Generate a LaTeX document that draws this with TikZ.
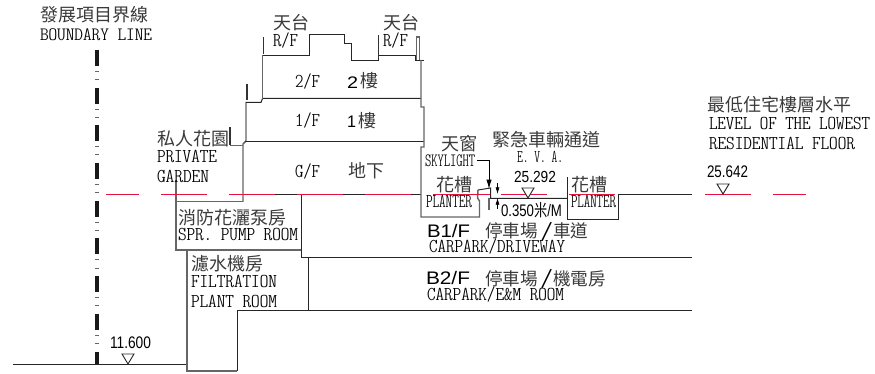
\documentclass[tikz,border=0pt]{standalone}
\usepackage{fontspec}
\usepackage{graphicx}
\usetikzlibrary{arrows.meta}
\newfontfamily\cjkf{Noto Sans CJK TC}
\newfontfamily\arl{Liberation Sans}
\definecolor{redline}{HTML}{E5123F}
\definecolor{wallgrey}{HTML}{666666}
\definecolor{inkgrey}{HTML}{3A3A3A}
\newlength{\pxu}\setlength{\pxu}{0.75pt}
% width, cap height in px; serif condensed mono label
\newcommand{\lat}[3]{\resizebox{#1\pxu}{#2\pxu}{\fontsize{15pt}{15pt}\ttfamily\fontseries{lc}\selectfont\raisebox{0pt}[0.61em][0pt]{#3}}}
\newcommand{\arf}[3]{\resizebox{#1\pxu}{#2\pxu}{\fontsize{15pt}{15pt}\arl\raisebox{0pt}[0.716em][0pt]{#3}}}
\tikzset{
  x=0.75pt,y=-0.75pt,
  zh/.style={anchor=base west,inner sep=0pt,outer sep=0pt,text=inkgrey,font=\fontsize{13.5pt}{13.5pt}\cjkf},
  zhb/.style={zh,font=\fontsize{13.2pt}{13.2pt}\cjkf},
  en/.style={anchor=base west,inner sep=0pt,outer sep=0pt,text=black},
  num/.style={anchor=base west,inner sep=0pt,outer sep=0pt,text=black},
  ln/.style={draw=black!85,line width=0.75pt},
  wall/.style={draw=wallgrey,line width=1.1pt,line join=miter},
  para/.style={draw=black!80,line width=1.3pt},
  rd/.style={draw=redline,line width=0.75pt},
  lvl/.style={draw=black!85,line width=0.7pt,fill=white},
  dimarrow/.style={draw=black,line width=0.5pt,-{Latex[length=5pt,width=3pt]}},
}
\begin{document}
\begin{tikzpicture}
\path[use as bounding box] (0,0) rectangle (875,374);
% boundary line
\foreach \k in {0,...,7}{
  \fill[black!90] (94.5,{50+37.7*\k}) rectangle (99,{66+37.7*\k});
  \fill[black!60] (95,{71+37.7*\k}) rectangle (99,{72+37.7*\k});
  \fill[black!60] (95,{79+37.7*\k}) rectangle (99,{80+37.7*\k});
}
\fill[black!90] (94.5,352) rectangle (99,364);
% ground and basement
\draw[ln] (13,364.5) -- (187,364.5);
\draw[ln] (243,194.5) -- (421,194.5);
\draw[ln] (301.5,194) -- (301.5,257.5) -- (692,257.5);
\draw[ln] (308.5,257) -- (308.5,310);
\draw[ln] (692,310.5) -- (237.5,310.5) -- (237.5,371);
\draw[wall] (176,180) -- (176,250) -- (301,250);
\draw[wall] (176,201.5) -- (243,201.5);
\draw[wall] (187,250) -- (187,371) -- (237,371);
% building
\draw[wall] (230,145.5) -- (243,145.5);
\draw[wall] (243,202) -- (243,144) -- (246,141) -- (246,102);
\draw[ln] (245,141.5) -- (424,141.5);
\draw[ln] (246,102.5) -- (261,102.5) -- (262.5,98.5) -- (421,98.5);
\draw[wall] (262.5,99) -- (262.5,55);
\draw[ln] (262.5,55.5) -- (309.5,55.5) -- (309.5,34.5) -- (344.5,34.5) -- (344.5,43.5) -- (351.5,43.5) -- (351.5,60.5) -- (378,60.5) -- (378,55.5) -- (415.5,55.5) -- (415.5,60.5) -- (424,60.5);
\draw[wall] (421,60) -- (421,107) -- (424,107) -- (424,147) -- (421,147) -- (421,217) -- (479.5,217) -- (479.5,201) -- (477.5,198) -- (478,190);
\draw[ln] (478,190) -- (490.5,188) -- (490.5,198.5) -- (567,198.5);
\draw[wall,line width=0.9pt] (489,198) -- (489,210);
\draw[ln] (567.5,177) -- (567.5,219.5) -- (618.5,219.5) -- (618.5,194.5) -- (692,194.5);
% parapets
\draw[para] (263.5,37) -- (263.5,54);
\draw[para] (247,84) -- (247,100);
\draw[para] (230,127) -- (230,145);
\draw[para] (378.5,35) -- (378.5,58);
\draw[wall,line width=0.8pt] (416.5,60) -- (416.5,37) -- (419.5,37) -- (419.5,60);
% red datum
\foreach \a/\b in {106/139,161/207,229/275,297/343,365/411,433/479,501/547,569/615,705/751,773/806}{
  \draw[rd] (\a,194.5) -- (\b,194.5);
}
\draw[rd] (479,194.5) -- (490,194.5);
% skylight leader and dimension
\coordinate (ldA) at (477,160);
\coordinate (ldB) at (489,160);
\coordinate (ldC) at (489,189);
\draw[draw=black,line width=0.6pt,-{Latex[length=7pt,width=4pt]}] (ldA) -- (ldB) -- (ldC);
\coordinate (dA) at (497.5,183);
\coordinate (dB) at (497.5,194);
\coordinate (dC) at (497.5,209);
\coordinate (dD) at (497.5,198);
\draw[dimarrow] (dA) -- (dB);
\draw[dimarrow] (dC) -- (dD);
% levels
\draw[lvl] (122,354) -- (134,354) -- (128,364) -- cycle;
\draw[lvl] (522,188) -- (534,188) -- (528,198) -- cycle;
\draw[lvl] (717,184) -- (729,184) -- (723,194) -- cycle;
% texts
\node[zh] (t1) at (40,22) {發展項目界線};
\node[en] (t2) at (40,41) {\lat{112}{11.5}{BOUNDARY LINE}};
\node[zh] (t3) at (273,30) {天台};
\node[en] (t4) at (273,47) {\lat{25}{12}{R/F}};
\node[zh] (t5) at (383,30) {天台};
\node[en] (t6) at (383,47) {\lat{25}{12}{R/F}};
\node[en] (t7) at (295,88) {\lat{25}{12}{2/F}};
\node[num] (t8) at (347,89) {\arf{11}{12}{2}};
\node[zh] (t9) at (360,88) {樓};
\node[en] (t10) at (295,127) {\lat{25}{12}{1/F}};
\node[num] (t11) at (347,128) {\arf{9}{12}{1}};
\node[zh] (t12) at (358,128) {樓};
\node[zh] (t13) at (157,146) {私人花園};
\node[en] (t14) at (157,162) {\lat{60}{12}{PRIVATE}};
\node[en] (t15) at (157,182) {\lat{52}{12}{GARDEN}};
\node[en] (t16) at (295,177) {\lat{25}{12}{G/F}};
\node[zh] (t17) at (348,178) {地下};
\node[zh] (t18) at (441,151) {天窗};
\node[en] (t19) at (425,167) {\lat{50}{11.5}{SKYLIGHT}};
\node[zh] (t20) at (492,147) {緊急車輛通道};
\node[en] (t21) at (517,163) {\lat{46}{11}{E. V. A.}};
\node[num] (t22) at (514,183) {\arf{42}{11.5}{25.292}};
\node[zh] (t23) at (436,192) {花槽};
\node[en] (t24) at (426,208) {\lat{46}{12}{PLANTER}};
\node[zh] (t25) at (571,192) {花槽};
\node[en] (t26) at (571,208) {\lat{45}{12}{PLANTER}};
\node[num] (t27) at (501,217) {\arf{61}{12}{0.350{\cjkf 米}/M}};
\node[en] (t28) at (427,238) {\arf{43}{13}{B1/F}};
\node[zhb] (t29a) at (485,238) {停車場};
\node[num] (t29b) at (540,239) {\lat{13}{15}{/}};
\node[zhb] (t29c) at (553,238) {車道};
\node[en] (t30) at (429,252) {\lat{136}{12}{CARPARK/DRIVEWAY}};
\node[en] (t31) at (426,285) {\arf{44}{13}{B2/F}};
\node[zhb] (t32a) at (485,285) {停車場};
\node[num] (t32b) at (540,286) {\lat{13}{15}{/}};
\node[zhb] (t32c) at (553,285) {機電房};
\node[en] (t33) at (427,300) {\lat{137}{12}{CARPARK/E\&M ROOM}};
\node[zh] (t34) at (178,224) {消防花灑泵房};
\node[en] (t35) at (178,240) {\lat{120}{12}{SPR. PUMP ROOM}};
\node[zh] (t36) at (191,271) {濾水機房};
\node[en] (t37) at (191,287) {\lat{86}{12}{FILTRATION}};
\node[en] (t38) at (191,307) {\lat{86}{12}{PLANT ROOM}};
\node[num] (t39) at (110,348) {\arf{41}{12}{11.600}};
\node[zh] (t40) at (707,112) {最低住宅樓層水平};
\node[en] (t41) at (709,130) {\lat{161}{12}{LEVEL OF THE LOWEST}};
\node[en] (t42) at (709,150) {\lat{146}{12}{RESIDENTIAL FLOOR}};
\node[num] (t43) at (707,178) {\arf{41}{12}{25.642}};
\end{tikzpicture}
\end{document}
